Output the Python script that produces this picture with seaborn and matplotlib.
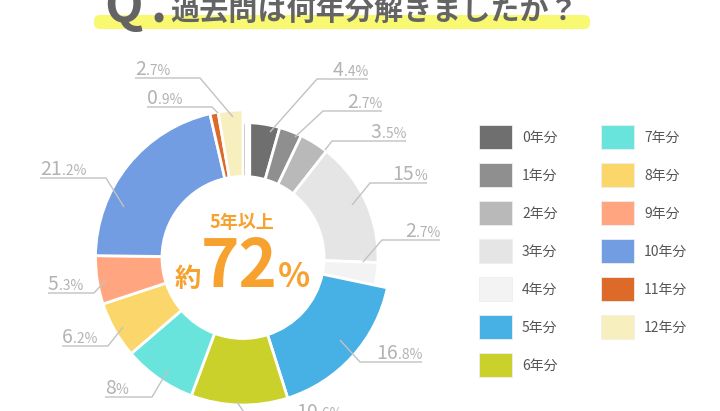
import matplotlib
matplotlib.use("Agg")
import matplotlib.pyplot as plt
import seaborn as sns
import pandas as pd
from matplotlib.patches import FancyBboxPatch, Rectangle

# データ
categories = ["0年分", "1年分", "2年分", "3年分", "4年分", "5年分", "6年分",
              "7年分", "8年分", "9年分", "10年分", "11年分", "12年分"]
shares = [4.4, 2.7, 3.5, 15, 2.7, 16.8, 10.6, 8, 6.2, 5.3, 21.2, 0.9, 2.7]
palette = ["#6f6f6f", "#8f8f8f", "#b9b9b9", "#e5e5e5", "#f3f3f3", "#47b0e4", "#c9d12a",
           "#68e4dc", "#fbd76b", "#ffa57f", "#729de3", "#dd6a29", "#f8efbf"]
title = "過去問は何年分解きましたか？"
center_caption = "5年以上"
center_value = "72"

df = pd.DataFrame({"category": categories, "share": shares, "color": palette})

sns.set_theme(style="white")
plt.rcParams["font.family"] = ["Noto Sans CJK JP", "DejaVu Sans"]

fig = plt.figure(figsize=(7.2, 4.11), dpi=100)
ax = fig.add_axes([0, 0, 1, 1])

# ドーナツの配置（ピクセル単位）
cx, cy = 243, 257.5
r_out = 147.5
r_grey = 135
r_in = 81

wedges, _ = ax.pie(df["share"], colors=df["color"], startangle=-90, counterclock=True,
                   radius=r_out, center=(cx, cy),
                   wedgeprops=dict(width=r_out - r_in, edgecolor="white", linewidth=2))
# 0〜4年分は少し小さく
for w in wedges[:5]:
    w.set_radius(r_grey)
    w.set_width(r_grey - r_in)
ax.vlines(cx + 5, cy - r_out - 5, cy - r_in + 3, color="white", lw=4.5, zorder=3)

ax.set_xlim(0, 720)
ax.set_ylim(411, 0)
ax.set_aspect("equal")
ax.axis("off")

renderer = fig.canvas.get_renderer()


def rich_text(x, y, parts, ha, color, zorder=5):
    arts = []
    for s, size, weight in parts:
        t = ax.text(0, y, s, fontsize=size, fontweight=weight, color=color,
                    va="baseline", ha="left", zorder=zorder)
        arts.append(t)
    widths = [t.get_window_extent(renderer).width for t in arts]
    total = sum(widths)
    if ha == "right":
        start = x - total
    elif ha == "center":
        start = x - total / 2
    else:
        start = x
    for t, w in zip(arts, widths):
        t.set_x(start)
        start += w


def split_label(v):
    s = f"{v:g}"
    if "." in s:
        a, b = s.split(".")
        return a, "." + b + "%"
    return s, "%"


# ラベルの引き出し線: アンカー, 折れ点, 水平線の端, 向き
leaders = [
    ((270, 132), (317, 79), 368, "right"),
    ((295, 137), (323, 111), 382, "right"),
    ((325, 150), (332, 141), 406, "right"),
    ((352, 205), (370, 183), 427, "right"),
    ((363, 262), (382, 240), 440, "right"),
    ((340, 340), (360, 362), 422, "right"),
    ((237, 402), (250, 421), 342, "right"),
    ((168, 370), (152, 397), 105, "left"),
    ((123, 327), (108, 346), 62, "left"),
    ((106, 280), (94, 293), 48, "left"),
    ((124, 207), (106, 178), 40, "left"),
    ((218, 113), (212, 107), 147, "left"),
    ((233, 117), (200, 78), 135, "left"),
]

line_color = "#c2c2c2"
label_color = "#b3b3b3"
for v, (anchor, elbow, end_x, side) in zip(df["share"], leaders):
    ax.plot([anchor[0], elbow[0], end_x], [anchor[1], elbow[1], elbow[1]],
            color=line_color, lw=1.0, zorder=4, solid_capstyle="butt")
    big, small = split_label(v)
    rich_text(end_x, elbow[1] - 3, [(big, 14, "normal"), (small, 10, "normal")],
              side, label_color)

# 中央のテキスト
orange = "#f7a12f"
ax.text(cx - 1, 222, center_caption, fontsize=13, fontweight="bold", color=orange,
        ha="center", va="center", zorder=5)
rich_text(cx - 1, 287, [("約", 19, "bold"), (center_value, 47, "bold"), ("%", 24, "bold")],
          "center", orange)

# 凡例
for i, (cat, col) in enumerate(zip(df["category"], df["color"])):
    c, r = divmod(i, 7)
    x0 = 479 + c * 122
    y0 = 125 + r * 38
    ax.add_patch(Rectangle((x0, y0), 33, 24, facecolor=col, edgecolor="#eeeeee", lw=0.6))
    ax.text(x0 + 43, y0 + 12.5, cat, fontsize=10, color="#555555", ha="left", va="center")

# タイトル
ax.add_patch(FancyBboxPatch((94, 15), 496, 14, boxstyle="round,pad=0,rounding_size=6",
                            facecolor="#f9f871", edgecolor="none", zorder=1))
ax.text(104, 22, "Q", fontsize=36, fontweight="bold", color="#646464",
        ha="left", va="baseline", zorder=2)
ax.text(150, 22, ".", fontsize=36, fontweight="bold", color="#646464",
        ha="left", va="baseline", zorder=2)
ax.text(170, 21, title, fontsize=21, fontweight="bold", color="#646464",
        ha="left", va="baseline", zorder=2)

fig.savefig("out.png", dpi=100)
